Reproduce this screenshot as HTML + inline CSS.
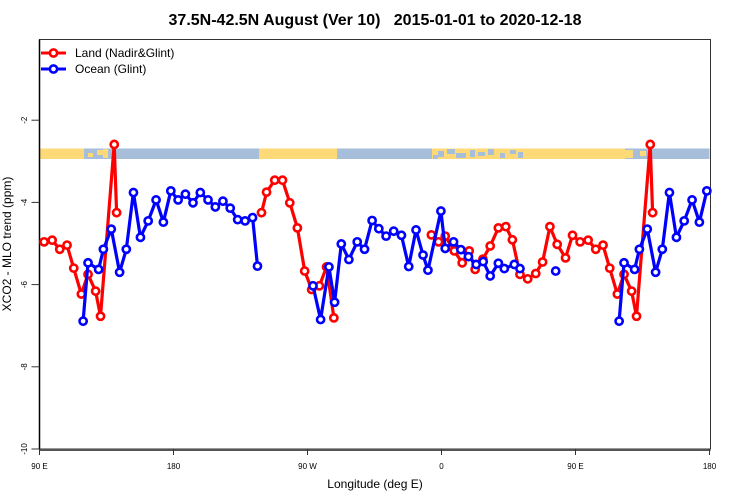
<!DOCTYPE html>
<html><head><meta charset="utf-8"><style>
html,body{margin:0;padding:0;background:#fff;}
svg{display:block;font-family:"Liberation Sans",Arial,sans-serif;}
</style></head><body>
<svg id="chart" width="750" height="500" viewBox="0 0 750 500"></svg>
<script>
// Data: longitude (deg E, -180..180) and XCO2-MLO trend values
const landLon = [-120.9,-117.5,-112.0,-106.8,-101.9,-96.8,-91.9,-87.2,-82.0,-77.2,-72.3,-6.8,-2.0,2.5,8.6,13.9,18.6,22.6,27.8,32.7,38.2,43.2,47.6,52.7,57.9,63.3,67.9,72.8,77.7,83.3,88.0,93.1,98.5,103.6,108.5,113.0,118.1,122.6,127.7,131.0,140.2,141.8];
const landVal = [-4.25,-3.75,-3.46,-3.46,-4.01,-4.62,-5.67,-6.12,-6.03,-5.57,-6.81,-4.79,-4.96,-4.82,-5.18,-5.47,-5.18,-5.63,-5.38,-5.06,-4.62,-4.59,-4.91,-5.75,-5.86,-5.73,-5.45,-4.59,-5.02,-5.35,-4.80,-4.96,-4.92,-5.14,-5.04,-5.60,-6.23,-5.75,-6.16,-6.77,-2.59,-4.25];
const oceanLon = [-176.9,-172.0,-166.9,-162.0,-156.8,-151.9,-146.8,-141.9,-136.9,-131.9,-126.9,-123.6,-86.3,-81.2,-75.6,-71.8,-67.3,-62.2,-56.6,-51.7,-46.6,-42.1,-37.2,-32.1,-26.9,-22.0,-17.1,-12.4,-9.1,-0.4,2.5,8.1,13.0,18.1,23.3,28.0,32.7,38.2,42.2,48.9,52.7,76.7,119.3,122.6,129.7,132.9,138.2,143.8,148.3,153.1,157.8,163.0,168.3,173.2,178.2];
const oceanVal = [-3.94,-3.80,-4.01,-3.76,-3.94,-4.11,-3.97,-4.14,-4.42,-4.45,-4.37,-5.55,-6.03,-6.85,-5.57,-6.43,-5.01,-5.39,-4.96,-5.14,-4.44,-4.64,-4.82,-4.70,-4.80,-5.56,-4.67,-5.28,-5.65,-4.21,-5.12,-4.96,-5.15,-5.32,-5.51,-5.44,-5.79,-5.48,-5.61,-5.51,-5.61,-5.67,-6.89,-5.47,-5.63,-5.14,-4.65,-5.70,-5.14,-3.76,-4.85,-4.45,-3.94,-4.48,-3.72];
const yTicks = [-10,-8,-6,-4,-2];
const xTickPos = [90,180,270,360,450,540];
const xTickLabels = ["90 E","180","90 W","0","90 E","180"];

const NS="http://www.w3.org/2000/svg";
const svg=document.getElementById('chart');
const X0=39.5, X1=709.5, Y0=449, Y1=38;
const xs = e => X0 + (e-90)*(X1-X0)/450;
const ys = v => Y0 + (v+10)*(Y1-Y0)/10;
function mk(tag,attrs,parent){const el=document.createElementNS(NS,tag);for(const k in attrs)el.setAttribute(k,attrs[k]);(parent||svg).appendChild(el);return el;}

// map strip
const strip=mk('g',{});


const Yc='#FED978', Bc='#A7BEDA';
const segs=[[39.5,84,Yc],[84,112,Bc],[112,259,Bc],[259,337,Yc],[337,432,Bc],[432,523,Yc],[523,625,Yc],[625,652,Bc],[652,709.5,Bc]];
segs.forEach(s=>mk('rect',{x:s[0],y:148.5,width:s[1]-s[0],height:10.5,fill:s[2]},strip));
// speckles
[[88,153,5,4,Yc],[97,150,6,5,Yc],[103,149,5,9,Yc],[625,150,8,8,Yc],[640,151,6,5,Yc],
 [438,151,6,6,Bc],[447,149,8,5,Bc],[456,153,10,5,Bc],[470,150,5,7,Bc],[478,152,7,4,Bc],[488,149,6,6,Bc],[500,153,5,5,Bc],[510,150,6,4,Bc],[518,152,5,6,Bc],[433,155,5,4,Bc]]
 .forEach(s=>mk('rect',{x:s[0],y:s[1],width:s[2],height:s[3],fill:s[4]},strip));

// frame
const frame=mk('rect',{x:X0,y:39.5,width:X1-X0+1,height:Y0-39.5,fill:'none',stroke:'#333','stroke-width':1});


mk('line',{x1:X0,y1:39.5,x2:X0,y2:Y0,stroke:'#000','stroke-width':1.5});
mk('line',{x1:X0,y1:Y0+1,x2:X1+1,y2:Y0+1,stroke:'#555','stroke-width':2});

// y ticks
yTicks.forEach(v=>{
  const y=ys(v);
  mk('line',{x1:X0-8,y1:y,x2:X0,y2:y,stroke:'#333','stroke-width':1});
  const t=mk('text',{x:0,y:0,'font-size':8,'text-anchor':'middle',transform:`translate(27,${y}) rotate(-90)`});
  t.textContent=v;
  
  
});
// x ticks
xTickPos.forEach((e,i)=>{
  const x=xs(e);
  mk('line',{x1:x,y1:Y0,x2:x,y2:Y0+6,stroke:'#333','stroke-width':1});
  const t=mk('text',{x:x,y:469,'font-size':8,'text-anchor':'middle'});
  t.textContent=xTickLabels[i];
  
  
});

function series(lon,val,color,name){
  const pts=[];
  lon.forEach((l,i)=>{ if(l>=90) pts.push([l,val[i]]); });
  lon.forEach((l,i)=>{ pts.push([l+360,val[i]]); });
  pts.sort((a,b)=>a[0]-b[0]);
  const g=mk('g',{});
  
  
  let d='';let prev=null;
  pts.forEach(p=>{
    if(p[0]>540)return;
    const cmd=(prev&&p[0]-prev[0]<15)?'L':'M';
    d+=cmd+xs(p[0]).toFixed(1)+' '+ys(p[1]).toFixed(1)+' ';
    prev=p;
  });
  mk('path',{d:d,fill:'none',stroke:color,'stroke-width':3.2,'stroke-linejoin':'round'},g);
  pts.forEach(p=>{
    if(p[0]>540)return;
    const c=mk('circle',{cx:xs(p[0]),cy:ys(p[1]),r:3.6,fill:'#fff',stroke:color,'stroke-width':2.6},g);
    
    
  });
}
series(landLon,landVal,'#FF0000','land-series');
series(oceanLon,oceanVal,'#0000FF','ocean-series');

// legend
const lg=mk('g',{});


[['Land (Nadir&Glint)','#FF0000',53],['Ocean (Glint)','#0000FF',69]].forEach(e=>{
  mk('line',{x1:41,y1:e[2],x2:66,y2:e[2],stroke:e[1],'stroke-width':3},lg);
  mk('circle',{cx:53.5,cy:e[2],r:3.6,fill:'#fff',stroke:e[1],'stroke-width':2.6},lg);
  const t=mk('text',{x:75,y:e[2]+4,'font-size':12},lg);
  t.textContent=e[0];
  
  
});

const title=mk('text',{x:375,y:25,'font-size':16,'font-weight':'bold','text-anchor':'middle'});
title.textContent='37.5N-42.5N August (Ver 10)   2015-01-01 to 2020-12-18';
title.style.whiteSpace='pre';


const xt=mk('text',{x:375,y:488,'font-size':12,'text-anchor':'middle'});
xt.textContent='Longitude (deg E)';


const yt=mk('text',{x:0,y:0,'font-size':12,'text-anchor':'middle',transform:'translate(11,244) rotate(-90)'});
yt.textContent='XCO2 - MLO trend (ppm)';


</script>
</body></html>
